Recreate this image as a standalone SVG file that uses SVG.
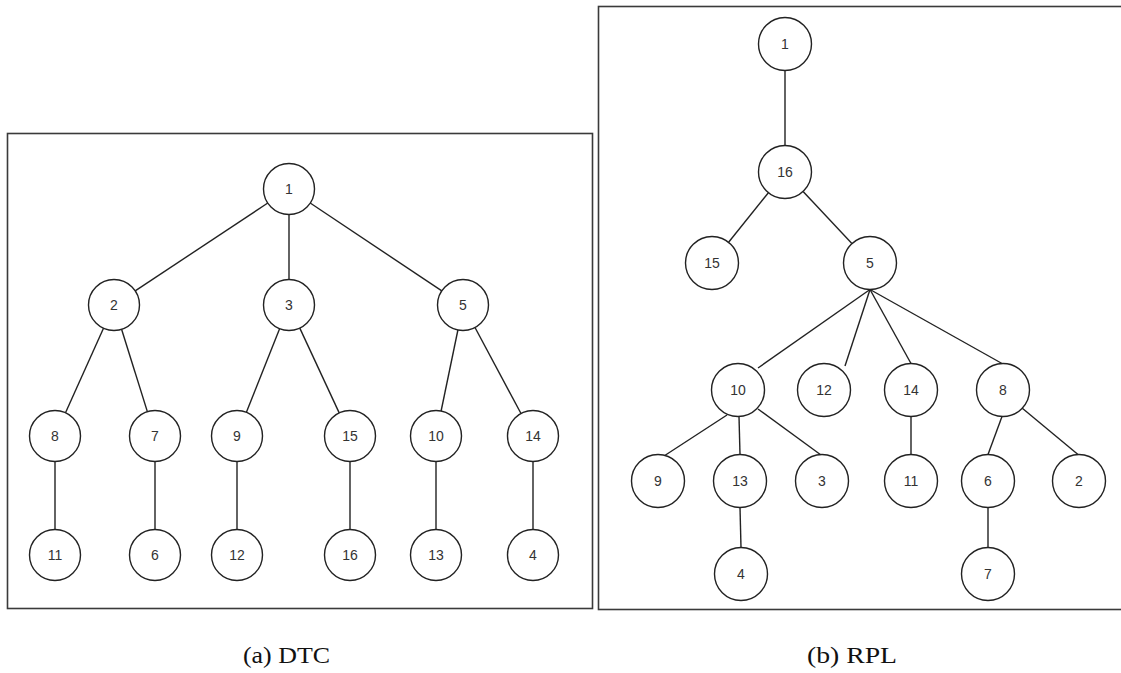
<svg xmlns="http://www.w3.org/2000/svg" width="1121" height="673" viewBox="0 0 1121 673">
<style>
.frame{fill:none;stroke:#3a3a3a;stroke-width:1.6}
.n circle{fill:#fff;stroke:#222;stroke-width:1.4}
.n text{font-family:"Liberation Sans",Arial,sans-serif;font-size:14px;fill:#333;text-anchor:middle;dominant-baseline:central}
#edges line{stroke:#222;stroke-width:1.4}
.cap{font-family:"Liberation Serif","Times New Roman",serif;font-size:24px;fill:#111}
</style>
<rect width="1121" height="673" fill="#fff"/>
<rect class="frame" x="7.5" y="133.5" width="585" height="475"/>
<rect class="frame" x="598.5" y="6.5" width="524" height="603"/>
<g id="edges">
<line x1="267.8" y1="203" x2="135.2" y2="290.9"/>
<line x1="289" y1="214.5" x2="289" y2="279.5"/>
<line x1="310.2" y1="203" x2="441.8" y2="290.9"/>
<line x1="103.5" y1="328.3" x2="65.5" y2="412.7"/>
<line x1="121.6" y1="329.3" x2="147.4" y2="411.7"/>
<line x1="279.6" y1="328.7" x2="246.4" y2="412.3"/>
<line x1="299.8" y1="328.1" x2="339.2" y2="412.9"/>
<line x1="457.9" y1="330" x2="441.1" y2="411"/>
<line x1="475" y1="327.5" x2="521" y2="413.5"/>
<line x1="55" y1="461.5" x2="55" y2="529.5"/>
<line x1="155" y1="461.5" x2="155" y2="529.5"/>
<line x1="237" y1="461.5" x2="237" y2="529.5"/>
<line x1="350" y1="461.5" x2="350" y2="529.5"/>
<line x1="436" y1="461.5" x2="436" y2="529.5"/>
<line x1="533" y1="461.5" x2="533" y2="529.5"/>
<line x1="785" y1="70.5" x2="785" y2="145.5"/>
<line x1="768.4" y1="192.7" x2="728.6" y2="242.3"/>
<line x1="803.1" y1="191.4" x2="851.9" y2="243.6"/>
<line x1="870" y1="289.5" x2="758" y2="368"/>
<line x1="870" y1="289.5" x2="845" y2="366"/>
<line x1="870" y1="289.5" x2="911" y2="363.5"/>
<line x1="870" y1="289.5" x2="1002" y2="363.5"/>
<line x1="727" y1="415" x2="664" y2="456"/>
<line x1="739" y1="416.5" x2="740" y2="454.5"/>
<line x1="758" y1="409" x2="821" y2="455"/>
<line x1="740" y1="507.5" x2="741" y2="547.5"/>
<line x1="911" y1="416.5" x2="911" y2="454.5"/>
<line x1="1002" y1="416.5" x2="988" y2="454.5"/>
<line x1="1022" y1="408" x2="1078" y2="454.5"/>
<line x1="988" y1="507.5" x2="988" y2="547.5"/>
</g>
<g id="dtc-1" class="n"><circle cx="289" cy="189" r="25.5"/><text x="289" y="189">1</text></g>
<g id="dtc-2" class="n"><circle cx="114" cy="305" r="25.5"/><text x="114" y="305">2</text></g>
<g id="dtc-3" class="n"><circle cx="289" cy="305" r="25.5"/><text x="289" y="305">3</text></g>
<g id="dtc-5" class="n"><circle cx="463" cy="305" r="25.5"/><text x="463" y="305">5</text></g>
<g id="dtc-8" class="n"><circle cx="55" cy="436" r="25.5"/><text x="55" y="436">8</text></g>
<g id="dtc-7" class="n"><circle cx="155" cy="436" r="25.5"/><text x="155" y="436">7</text></g>
<g id="dtc-9" class="n"><circle cx="237" cy="436" r="25.5"/><text x="237" y="436">9</text></g>
<g id="dtc-15" class="n"><circle cx="350" cy="436" r="25.5"/><text x="350" y="436">15</text></g>
<g id="dtc-10" class="n"><circle cx="436" cy="436" r="25.5"/><text x="436" y="436">10</text></g>
<g id="dtc-14" class="n"><circle cx="533" cy="436" r="25.5"/><text x="533" y="436">14</text></g>
<g id="dtc-11" class="n"><circle cx="55" cy="555" r="25.5"/><text x="55" y="555">11</text></g>
<g id="dtc-6" class="n"><circle cx="155" cy="555" r="25.5"/><text x="155" y="555">6</text></g>
<g id="dtc-12" class="n"><circle cx="237" cy="555" r="25.5"/><text x="237" y="555">12</text></g>
<g id="dtc-16" class="n"><circle cx="350" cy="555" r="25.5"/><text x="350" y="555">16</text></g>
<g id="dtc-13" class="n"><circle cx="436" cy="555" r="25.5"/><text x="436" y="555">13</text></g>
<g id="dtc-4" class="n"><circle cx="533" cy="555" r="25.5"/><text x="533" y="555">4</text></g>
<g id="rpl-1" class="n"><circle cx="785" cy="44" r="26.5"/><text x="785" y="44">1</text></g>
<g id="rpl-16" class="n"><circle cx="785" cy="172" r="26.5"/><text x="785" y="172">16</text></g>
<g id="rpl-15" class="n"><circle cx="712" cy="263" r="26.5"/><text x="712" y="263">15</text></g>
<g id="rpl-5" class="n"><circle cx="870" cy="263" r="26.5"/><text x="870" y="263">5</text></g>
<g id="rpl-10" class="n"><circle cx="738" cy="390" r="26.5"/><text x="738" y="390">10</text></g>
<g id="rpl-12" class="n"><circle cx="824" cy="390" r="26.5"/><text x="824" y="390">12</text></g>
<g id="rpl-14" class="n"><circle cx="911" cy="390" r="26.5"/><text x="911" y="390">14</text></g>
<g id="rpl-8" class="n"><circle cx="1003" cy="390" r="26.5"/><text x="1003" y="390">8</text></g>
<g id="rpl-9" class="n"><circle cx="658" cy="481" r="26.5"/><text x="658" y="481">9</text></g>
<g id="rpl-13" class="n"><circle cx="740" cy="481" r="26.5"/><text x="740" y="481">13</text></g>
<g id="rpl-3" class="n"><circle cx="822" cy="481" r="26.5"/><text x="822" y="481">3</text></g>
<g id="rpl-11" class="n"><circle cx="911" cy="481" r="26.5"/><text x="911" y="481">11</text></g>
<g id="rpl-6" class="n"><circle cx="988" cy="481" r="26.5"/><text x="988" y="481">6</text></g>
<g id="rpl-2" class="n"><circle cx="1079" cy="481" r="26.5"/><text x="1079" y="481">2</text></g>
<g id="rpl-4" class="n"><circle cx="741" cy="574" r="26.5"/><text x="741" y="574">4</text></g>
<g id="rpl-7" class="n"><circle cx="988" cy="574" r="26.5"/><text x="988" y="574">7</text></g>
<text class="cap" x="243" y="663" textLength="87" lengthAdjust="spacingAndGlyphs">(a) DTC</text>
<text class="cap" x="807" y="663" textLength="90" lengthAdjust="spacingAndGlyphs">(b) RPL</text>
</svg>
